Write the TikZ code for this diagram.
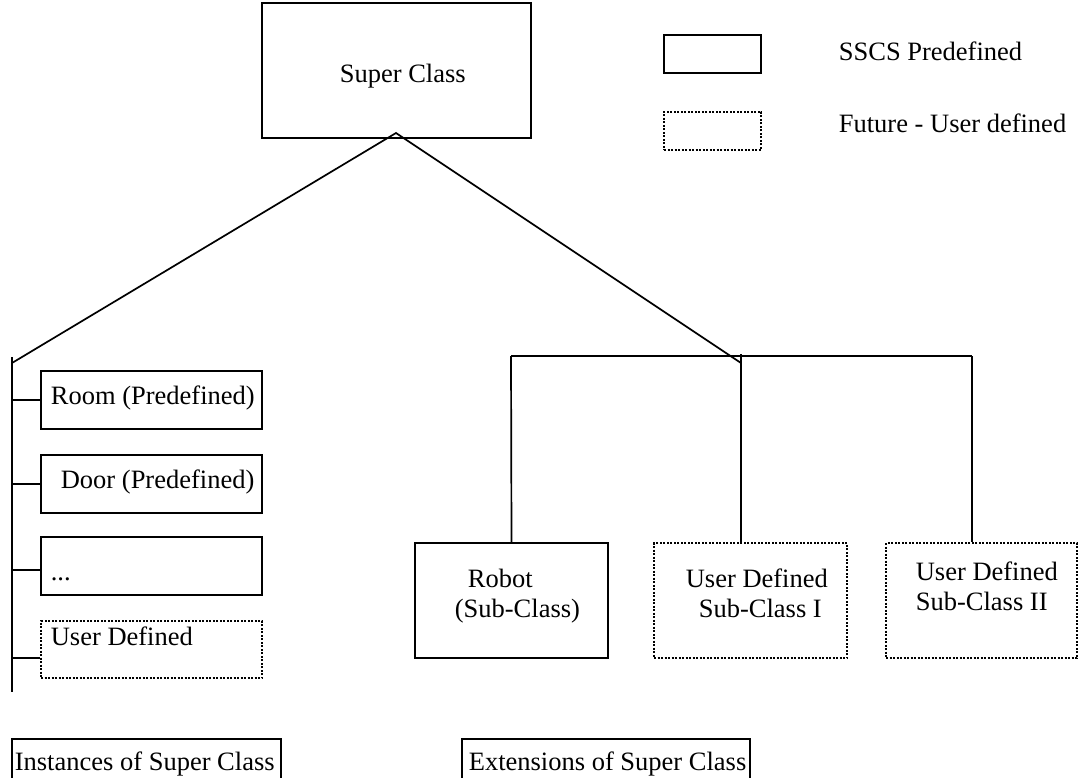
\documentclass[tikz,border=0pt]{standalone}
\usepackage{fontspec}
\setmainfont{Liberation Serif}
\begin{document}
\begin{tikzpicture}[x=1pt,y=-1pt,line width=1.7pt,
  solidbox/.style={draw,rectangle,inner sep=0pt},
  dotbox/.style={draw,rectangle,inner sep=0pt,line width=2.2pt,dash pattern=on 2pt off 1.5pt},
  lbl/.style={anchor=base west,inner sep=0pt,font=\fontsize{26.5}{30}\selectfont}]
\useasboundingbox (0,0) rectangle (1078,778);
\clip (0,0) rectangle (1078,778);

% super class and legend
\node[solidbox,minimum width=269pt,minimum height=135pt] (super) at (396.5,70.5) {};
\node[lbl] (tsuper) at (339,83) {Super Class};
\node[solidbox,minimum width=97pt,minimum height=38pt] (legsolid) at (712.5,54) {};
\node[dotbox,minimum width=97pt,minimum height=38pt] (legdot) at (712.5,131) {};
\node[lbl] (tlegsolid) at (838,61) {SSCS Predefined};
\node[lbl] (tlegdot) at (838,133) {Future - User defined};

% instances column
\node[solidbox,minimum width=221pt,minimum height=58pt] (room) at (151.5,400) {};
\node[solidbox,minimum width=221pt,minimum height=58pt] (door) at (151.5,484) {};
\node[solidbox,minimum width=221pt,minimum height=58pt] (more) at (151.5,566) {};
\node[dotbox,minimum width=221pt,minimum height=57pt] (user) at (151.5,649.5) {};
\node[lbl] (troom) at (50,404) {Room (Predefined)};
\node[lbl] (tdoor) at (60,488) {Door (Predefined)};
\node[lbl] (tmore) at (50,580) {...};
\node[lbl] (tuser) at (50,645) {User Defined};

% extensions row
\node[solidbox,minimum width=193pt,minimum height=115pt] (robot) at (511.5,600.5) {};
\node[dotbox,minimum width=193pt,minimum height=115pt] (subone) at (750.5,600.5) {};
\node[dotbox,minimum width=191pt,minimum height=115pt] (subtwo) at (981.5,600.5) {};
\node[lbl] (trobot) at (467,587) {Robot};
\node[lbl] (trobotb) at (454,617) {(Sub-Class)};
\node[lbl] (tsubone) at (685,587) {User Defined};
\node[lbl] (tsuboneb) at (698,617) {Sub-Class I};
\node[lbl] (tsubtwo) at (915,580) {User Defined};
\node[lbl] (tsubtwob) at (915,610) {Sub-Class II};

% captions, open at the bottom edge
\node[solidbox,minimum width=269pt,minimum height=61pt] (capinst) at (146.5,769.5) {};
\node[solidbox,minimum width=288pt,minimum height=61pt] (capext) at (606,769.5) {};
\node[lbl] (tcapinst) at (14,770) {Instances of Super Class};
\node[lbl] (tcapext) at (468,770) {Extensions of Super Class};

% junction points
\coordinate (apex) at (396,133);
\coordinate (ltop) at (12,357);
\coordinate (ljoin) at (12,363);
\coordinate (lbot) at (12,692);
\coordinate (rleft) at (511,356);
\coordinate (rmid) at (741,354);
\coordinate (rright) at (972,356);
\coordinate (rjoin) at (741,363);

% hierarchy connectors
\draw (ljoin) -- (apex) -- (rjoin);
\draw (ltop) -- (lbot);
\draw (room.west -| ltop) -- (room.west);
\draw (door.west -| ltop) -- (door.west);
\draw ([yshift=-4pt]more.west -| ltop) -- ([yshift=-4pt]more.west);
\draw ([yshift=-8.5pt]user.west -| ltop) -- ([yshift=-8.5pt]user.west);
\draw (rleft) -- (rright);
\draw (rleft) -- (robot.north);
\draw (rmid) -- (subone.north -| rmid);
\draw (rright) -- (subtwo.north -| rright);
\end{tikzpicture}
\end{document}
